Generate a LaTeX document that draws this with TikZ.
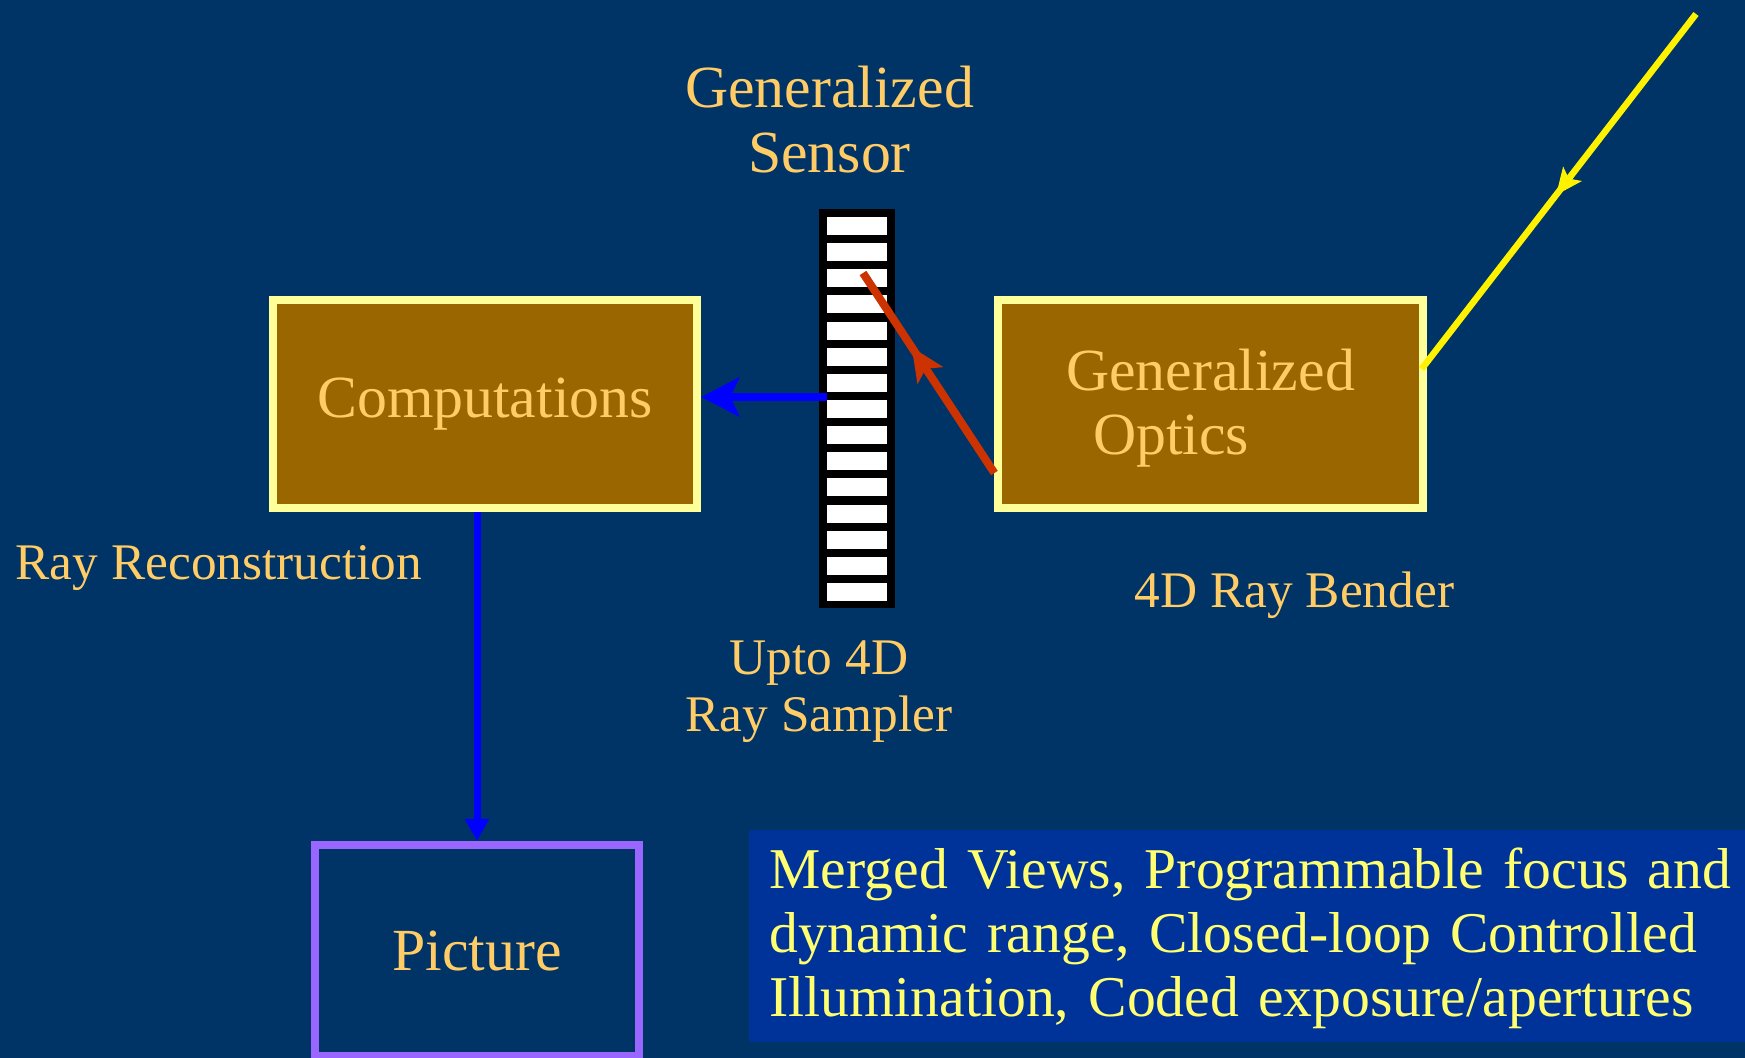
\documentclass[tikz,border=0pt]{standalone}
\usepackage{fontspec}
\setmainfont{Liberation Serif}
\usetikzlibrary{arrows.meta,calc,decorations.markings}

\definecolor{slidebg}{HTML}{003366}
\definecolor{boxbrown}{HTML}{996600}
\definecolor{paleyellow}{HTML}{FFFF99}
\definecolor{labelorange}{HTML}{FFCC66}
\definecolor{rayred}{HTML}{CC3300}
\definecolor{framepurple}{HTML}{9966FF}
\definecolor{notesblue}{HTML}{003399}
\definecolor{notesyellow}{HTML}{FFFF70}

\begin{document}
\begin{tikzpicture}[x=0.01cm,y=-0.01cm,
  every node/.style={font=\fontsize{17}{18.2}\selectfont,text=labelorange,inner sep=0pt},
  smalllbl/.style={font=\fontsize{14.6}{16.2}\selectfont},
  goldbox/.style={draw=paleyellow,fill=boxbrown,line width=0.08cm,minimum width=4.24cm,minimum height=2.08cm},
  midarrow/.style 2 args={postaction={decorate,decoration={markings,mark=at position #1 with {\arrow{#2}}}}}]
\useasboundingbox[fill=slidebg] (0,0) rectangle (1745,1058);

% sensor strip
\node[fill=black,minimum width=0.76cm,minimum height=3.99cm] (sensor) at (857,408.5) {};
\foreach \k in {0,...,14}
  \fill[white] (827,217+26.14*\k) rectangle +(60,18);

\node[goldbox] (comp) at (485,404) {Computations};
\node[goldbox,align=left] (opt) at (1210.5,404) {\rule{0pt}{14.1pt}Generalized\\\hspace*{0.27cm}Optics};
\node[draw=framepurple,line width=0.08cm,minimum width=3.24cm,minimum height=2.11cm] (pic) at (477,950.5) {Picture};

\node[align=center,font=\fontsize{17}{18.5}\selectfont] (senslbl) at (829.5,119.5) {Generalized\\Sensor};
\node[smalllbl,align=center] (samplbl) at (819,692) {Upto 4D\\Ray Sampler};
\node[smalllbl,anchor=base west] (reclbl) at (15,580) {Ray Reconstruction};
\node[smalllbl,anchor=base west] (bendlbl) at (1134,607) {4D Ray Bender};

\node[fill=notesblue,text=notesyellow,font=\fontsize{16.4}{18.2}\selectfont,anchor=north west,minimum height=2.12cm,text width=12cm,inner xsep=0.21cm,align=left] (notes) at (748,829)
  {\rule{0pt}{13.2pt}Merged Views, Programmable focus and\\dynamic range, Closed-loop Controlled\\Illumination, Coded exposure/apertures};

\coordinate (sensorout) at (827,397);
\coordinate (hitpix) at (863,273);
\coordinate (lightsrc) at (1696,14);

\path[draw,color=blue,line width=0.08cm,-{Stealth[length=10.8pt,width=11pt,inset=2.5pt]}] (sensorout) -- (sensorout -| comp.east);
\path[draw,color=blue,line width=0.07cm,-{Triangle[length=6.3pt,width=6.6pt]}] (comp.south -| pic.north) -- (pic.north);
\path[draw,color=rayred,line width=0.08cm,midarrow={0.63}{Stealth[length=9.5pt,width=8.5pt,inset=2.2pt]}] ($(opt.west)+(0,69)$) -- (hitpix);
\path[draw,color=yellow,line width=0.065cm,midarrow={0.51}{Stealth[length=7.5pt,width=6.5pt,inset=1.6pt]}] (lightsrc) -- ($(opt.east)+(-5,-35)$);
\end{tikzpicture}
\end{document}
